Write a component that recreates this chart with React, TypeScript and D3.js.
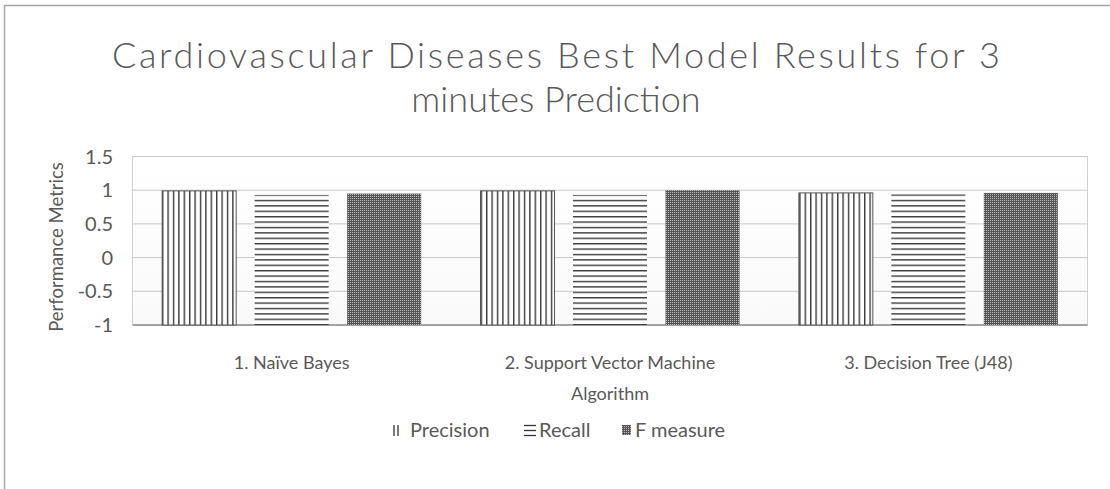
import React from "react";
import * as d3 from "d3";

const categories = ["1. Naïve Bayes", "2. Support Vector Machine", "3. Decision Tree (J48)"];
const seriesNames = ["Precision", "Recall", "F measure"];
const precision = [0.99, 0.99, 0.96];
const recall = [0.93, 0.93, 0.94];
const fMeasure = [0.95, 1.0, 0.96];
const yTicks = [-1, -0.5, 0, 0.5, 1, 1.5];

const W = 1110;
const H = 489;
const FONT = "Lato, 'Open Sans', sans-serif";
const TXT = "#595959";

export default function App() {
  const plot = { left: 132.5, right: 1087.5, top: 156.5, bottom: 325 };
  const y = d3.scaleLinear().domain([-1, 1.5]).range([plot.bottom, plot.top]);
  const x0 = d3.scaleBand().domain(categories).range([plot.left, plot.right]);
  const groupW = 259;
  const x1 = d3.scaleBand().domain(seriesNames).range([0, groupW]).paddingInner(0.2);
  const values = [precision, recall, fMeasure];
  const patterns = ["pPrec", "pRec", "pF"];

  return (
    <svg width={W} height={H} style={{ position: "absolute", left: 0, top: 0, background: "#fff" }} fontFamily={FONT}>
      <defs>
        <pattern id="pPrec" width={5.4} height={10} patternUnits="userSpaceOnUse">
          <rect width={5.4} height={10} fill="#fff" />
          <rect x={0} width={1.4} height={10} fill="#3a3a3a" />
        </pattern>
        <pattern id="pRec" width={10} height={5.4} patternUnits="userSpaceOnUse">
          <rect width={10} height={5.4} fill="#fff" />
          <rect y={0} width={10} height={1.4} fill="#3a3a3a" />
        </pattern>
        <pattern id="pF" width={2} height={2} patternUnits="userSpaceOnUse">
          <rect width={2} height={2} fill="#555" />
          <rect width={1} height={1} fill="#bbb" />
        </pattern>
        <linearGradient id="bgShade" x1="0" x2="0" y1="0" y2="1">
          <stop offset="0" stopColor="#fff" />
          <stop offset="1" stopColor="#fafafa" />
        </linearGradient>
      </defs>
      <rect x={4.5} y={5.5} width={W} height={H} fill="#fff" stroke="#a6a6a6" strokeWidth={1.5} />
      <text x={556} y={68} textAnchor="middle" fontSize={36} fontWeight={300} fill={TXT} textLength={888} lengthAdjust="spacing">
        Cardiovascular Diseases Best Model Results for 3
      </text>
      <text x={556} y={112} textAnchor="middle" fontSize={36} fontWeight={300} fill={TXT}>
        minutes Prediction
      </text>
      <rect x={plot.left} y={plot.top} width={plot.right - plot.left} height={plot.bottom - plot.top} fill="url(#bgShade)" stroke="#d0d0d0" />
      {yTicks.map((t) => (
        <g key={t}>
          <line x1={plot.left} x2={plot.right} y1={y(t)} y2={y(t)} stroke={t === -1 ? "#8c8c8c" : "#c8c8c8"} strokeWidth={t === -1 ? 1.5 : 1} />
          <text x={113} y={y(t)} dy="0.35em" textAnchor="end" fontSize={20} fill={TXT}>
            {t}
          </text>
        </g>
      ))}
      {categories.map((c, ci) => {
        const gx = (x0(c) as number) + (x0.bandwidth() - groupW) / 2;
        return (
          <g key={c}>
            {seriesNames.map((s, si) => {
              const v = values[si][ci];
              const bx = gx + (x1(s) as number);
              return (
                <rect
                  key={s}
                  x={bx}
                  y={y(v)}
                  width={x1.bandwidth()}
                  height={y(-1) - y(v)}
                  fill={`url(#${patterns[si]})`}
                  stroke={si === 0 ? "#555" : "none"}
                  strokeWidth={1}
                />
              );
            })}
            <text x={(x0(c) as number) + x0.bandwidth() / 2} y={363} dy="0.35em" textAnchor="middle" fontSize={18} fill={TXT}>
              {c}
            </text>
          </g>
        );
      })}
      <text x={(plot.left + plot.right) / 2} y={394} dy="0.35em" textAnchor="middle" fontSize={18} fill={TXT}>
        Algorithm
      </text>
      <text transform={`translate(57,247) rotate(-90)`} textAnchor="middle" dy="0.35em" fontSize={18.5} fill={TXT}>
        Performance Metrics
      </text>
      {/* legend */}
      <g>
        <line x1={394} x2={394} y1={425} y2={436} stroke="#333" strokeWidth={1.3} />
        <line x1={398} x2={398} y1={425} y2={436} stroke="#333" strokeWidth={1.3} />
        <text x={410} y={430} dy="0.35em" fontSize={20} fill={TXT}>
          {seriesNames[0]}
        </text>
        {[425.5, 430.5, 435.5].map((ly) => (
          <line key={ly} x1={524} x2={536} y1={ly} y2={ly} stroke="#333" strokeWidth={1.3} />
        ))}
        <text x={539} y={430} dy="0.35em" fontSize={20} fill={TXT}>
          {seriesNames[1]}
        </text>
        <rect x={622} y={425} width={9} height={10} fill="url(#pF)" />
        <text x={635} y={430} dy="0.35em" fontSize={20} fill={TXT}>
          {seriesNames[2]}
        </text>
      </g>
    </svg>
  );
}
